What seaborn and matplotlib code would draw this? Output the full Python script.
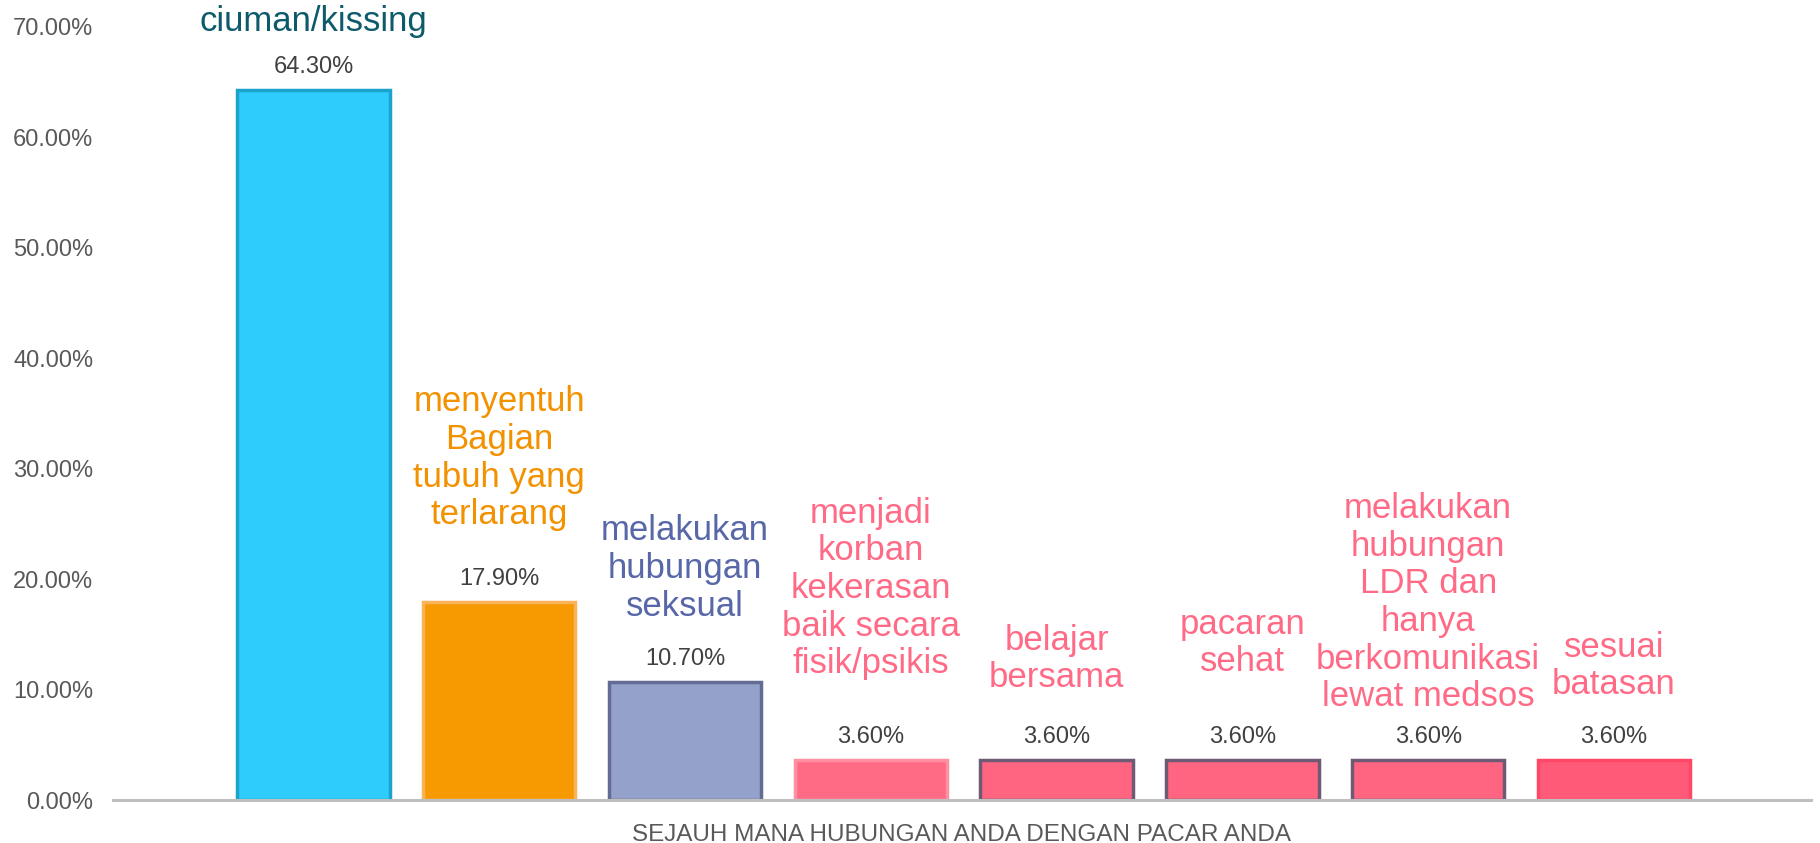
import matplotlib
matplotlib.use("Agg")
import matplotlib.pyplot as plt
import matplotlib.ticker as mticker
import seaborn as sns

categories = [
    "ciuman/kissing",
    "menyentuh\nBagian\ntubuh yang\nterlarang",
    "melakukan\nhubungan\nseksual",
    "menjadi\nkorban\nkekerasan\nbaik secara\nfisik/psikis",
    "belajar\nbersama",
    "pacaran\nsehat",
    "melakukan\nhubungan\nLDR dan\nhanya\nberkomunikasi\nlewat medsos",
    "sesuai\nbatasan",
]
values = [64.3, 17.9, 10.7, 3.6, 3.6, 3.6, 3.6, 3.6]
value_labels = ["64.30%", "17.90%", "10.70%", "3.60%", "3.60%", "3.60%", "3.60%", "3.60%"]

bar_colors = ["#2ECCFC", "#F79A02", "#94A1CA", "#FF6B85", "#FF6580", "#FF6580", "#FF6580", "#FF5A77"]
edge_colors = ["#1BA3CC", "#FBB35A", "#636C92", "#FF90A2", "#6E5A74", "#6E5A74", "#6E5A74", "#FF4868"]
label_colors = ["#0D5A6B", "#F39200", "#5867A8", "#FF6B86", "#FF6B86", "#FF6B86", "#FF6B86", "#FF6B86"]
# pixels between bar top and bottom of category label
label_pad = [52, 71, 59, 80, 66, 82, 47, 59]

sns.set_style("white")
plt.rcParams["font.family"] = ["Liberation Sans", "DejaVu Sans"]

fig = plt.figure(figsize=(18.2, 8.43), dpi=100)
ax = fig.add_axes([0.062, 0.051, 0.933, 0.917])

sns.barplot(x=categories, y=values, hue=categories, palette=bar_colors,
            legend=False, width=0.82, saturation=1, ax=ax)

for patch, ec in zip(ax.patches, edge_colors):
    patch.set_edgecolor(ec)
    patch.set_linewidth(2.5)

for i, v in enumerate(values):
    ax.annotate(value_labels[i], xy=(i, v), xytext=(0, 23), textcoords="offset pixels",
                ha="center", va="center", fontsize=17, color="#404040")
    ax.annotate(categories[i], xy=(i, v), xytext=(0, label_pad[i]), textcoords="offset pixels",
                ha="center", va="bottom", fontsize=25, color=label_colors[i],
                linespacing=1.18, annotation_clip=False)

ax.set_ylim(0, 70)
ax.set_xlim(-1.08, 8.06)
ax.yaxis.set_major_locator(mticker.MultipleLocator(10))
ax.yaxis.set_major_formatter(mticker.FuncFormatter(lambda y, p: f"{y:.2f}%"))
ax.set_xticks([])
ax.tick_params(axis="y", length=0, pad=14, labelsize=17, labelcolor="#595959")
ax.set_xlabel("SEJAUH MANA HUBUNGAN ANDA DENGAN PACAR ANDA", fontsize=17.5,
              color="#595959", labelpad=17)
ax.set_ylabel("")

for s in ["top", "right", "left"]:
    ax.spines[s].set_visible(False)
ax.spines["bottom"].set_color("#BFBFBF")
ax.spines["bottom"].set_linewidth(2.2)

fig.savefig("out.png", dpi=100)
